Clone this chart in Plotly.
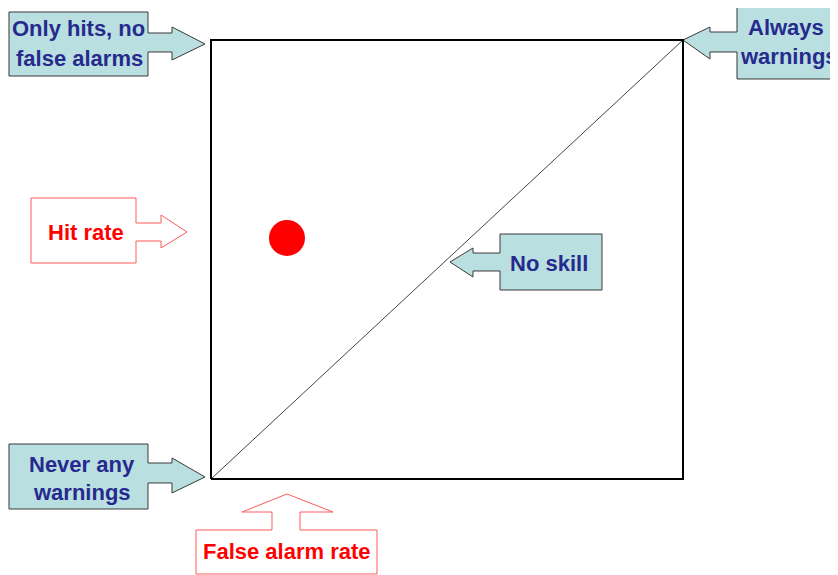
import plotly.graph_objects as go

# the page body adds an 8px margin, so the figure sits at (8, 8)
OFF = 8
W, H = 838 - OFF, 575 - OFF

# ROC-space data (false alarm rate, hit rate)
diag_far = [0.0, 1.0]
diag_hr = [0.0, 1.0]
point_far = [0.161]
point_hr = [0.549]
box_far = [0, 1, 1, 0, 0]
box_hr = [0, 0, 1, 1, 0]

# plot square in screen pixels
SX0, SX1, SY0, SY1 = 211, 683, 40, 479


def px(x):
    return (x - OFF) / W


def py(y):
    return 1 - (y - OFF) / H


def poly(pts):
    return 'M ' + ' L '.join(f'{px(x):.5f},{py(y):.5f}' for x, y in pts) + ' Z'


BLUE_FILL = '#b9dfe0'
BLUE_LINE = '#3a3a3a'
BLUE_TEXT = '#262a8e'
RED = '#ff0000'
RED_LINE = '#ff5a5a'

callouts = [
    # (points, fill, line colour)
    ([(9, 12), (148, 12), (148, 33), (172, 33), (172, 27), (205, 44), (172, 60),
      (172, 52), (148, 52), (148, 76), (9, 76)], BLUE_FILL, BLUE_LINE),
    ([(737, 3), (850, 3), (850, 79), (737, 79), (737, 52), (710, 52), (710, 59),
      (683, 40), (710, 27), (710, 32), (737, 32)], BLUE_FILL, BLUE_LINE),
    ([(31, 198), (136, 198), (136, 223), (161, 223), (161, 215), (187, 232),
      (161, 248), (161, 241), (136, 241), (136, 263), (31, 263)], 'white', RED_LINE),
    ([(500, 234), (602, 234), (602, 290), (500, 290), (500, 271), (473, 271),
      (473, 277), (450, 262), (473, 248), (473, 253), (500, 253)], BLUE_FILL, BLUE_LINE),
    ([(9, 444), (148, 444), (148, 463), (172, 463), (172, 458), (205, 477),
      (172, 493), (172, 483), (148, 483), (148, 509), (9, 509)], BLUE_FILL, BLUE_LINE),
    ([(196, 530), (272, 530), (272, 512), (242, 512), (287, 494), (333, 512),
      (300, 512), (300, 530), (377, 530), (377, 574), (196, 574)], 'white', RED_LINE),
]

labels = [
    ('Only hits, no', 78, 29, BLUE_TEXT),
    ('false alarms', 79, 58, BLUE_TEXT),
    ('Always', 786, 27, BLUE_TEXT),
    ('warnings', 789, 56, BLUE_TEXT),
    ('Hit rate', 86, 232, RED),
    ('No skill', 549, 263, BLUE_TEXT),
    ('Never any', 82, 464, BLUE_TEXT),
    ('warnings', 82, 492, BLUE_TEXT),
    ('False alarm rate', 287, 551, RED),
]

fig = go.Figure()

fig.add_trace(go.Scatter(
    x=diag_far, y=diag_hr, mode='lines',
    line=dict(color='#444444', width=1), hoverinfo='skip'
))
fig.add_trace(go.Scatter(
    x=box_far, y=box_hr, mode='lines',
    line=dict(color='black', width=2), hoverinfo='skip'
))
fig.add_trace(go.Scatter(
    x=point_far, y=point_hr, mode='markers',
    marker=dict(color='#ff0000', size=36, line=dict(width=0))
))

for pts, fill, line in callouts:
    fig.add_shape(
        type='path', path=poly(pts), xref='paper', yref='paper',
        fillcolor=fill, line=dict(color=line, width=1), layer='below'
    )

for text, x, y, color in labels:
    fig.add_annotation(
        text=f'<b>{text}</b>', x=px(x), y=py(y), xref='paper', yref='paper',
        showarrow=False, xanchor='center', yanchor='middle',
        font=dict(family='Liberation Sans, Arial', size=22, color=color)
    )

# axis range chosen so that the unit square lands on the pixel square
sx = (SX1 - SX0)
sy = (SY1 - SY0)
fig.update_layout(
    width=W, height=H,
    margin=dict(l=0, r=0, t=0, b=0),
    paper_bgcolor='white', plot_bgcolor='white',
    showlegend=False,
    xaxis=dict(range=[-(SX0 - OFF) / sx, (W + OFF - SX0) / sx], visible=False, fixedrange=True),
    yaxis=dict(range=[(SY1 - H - OFF) / sy, (SY1 - OFF) / sy], visible=False, fixedrange=True),
)

fig.write_html('out.html', config={'displayModeBar': False})
